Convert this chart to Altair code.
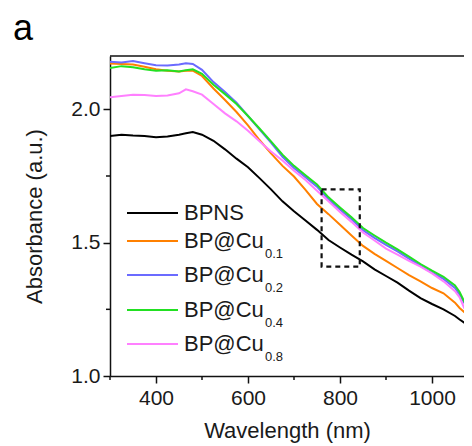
import altair as alt
import pandas as pd

# ---------------- data ----------------
wavelength = [300, 325, 350, 375, 400, 425, 450, 465, 480, 500, 525, 550, 575, 600,
              625, 650, 675, 700, 725, 750, 775, 800, 825, 850, 875, 900, 925, 950,
              975, 1000, 1025, 1050, 1060, 1070, 1075, 1080, 1085, 1090]

bpns = [1.900, 1.905, 1.902, 1.900, 1.895, 1.898, 1.905, 1.910, 1.915, 1.905, 1.882, 1.850,
        1.815, 1.783, 1.742, 1.700, 1.655, 1.618, 1.583, 1.548, 1.510, 1.482, 1.455, 1.430,
        1.400, 1.375, 1.350, 1.320, 1.292, 1.270, 1.250, 1.225, 1.212, 1.200, 1.205, 1.190,
        1.195, 1.185]
cu01 = [2.172, 2.170, 2.168, 2.160, 2.150, 2.145, 2.142, 2.145, 2.145, 2.125, 2.078, 2.035,
        1.990, 1.940, 1.885, 1.835, 1.788, 1.748, 1.698, 1.645, 1.607, 1.567, 1.527, 1.488,
        1.458, 1.432, 1.405, 1.378, 1.355, 1.330, 1.310, 1.275, 1.255, 1.240, 1.255, 1.245,
        1.250, 1.240]
cu02 = [2.178, 2.176, 2.181, 2.173, 2.165, 2.164, 2.168, 2.173, 2.170, 2.148, 2.102, 2.065,
        2.025, 1.975, 1.925, 1.875, 1.822, 1.780, 1.745, 1.710, 1.662, 1.624, 1.588, 1.547,
        1.518, 1.492, 1.467, 1.440, 1.413, 1.388, 1.364, 1.330, 1.305, 1.275, 1.262, 1.278,
        1.270, 1.265]
cu04 = [2.155, 2.162, 2.158, 2.150, 2.145, 2.147, 2.142, 2.147, 2.150, 2.133, 2.092, 2.057,
        2.020, 1.975, 1.928, 1.880, 1.830, 1.788, 1.753, 1.718, 1.670, 1.632, 1.595, 1.555,
        1.527, 1.500, 1.475, 1.448, 1.420, 1.395, 1.372, 1.340, 1.315, 1.280, 1.270, 1.282,
        1.272, 1.268]
cu08 = [2.045, 2.050, 2.055, 2.054, 2.050, 2.052, 2.060, 2.075, 2.068, 2.055, 2.020, 1.985,
        1.955, 1.920, 1.880, 1.842, 1.808, 1.770, 1.735, 1.695, 1.655, 1.615, 1.578, 1.538,
        1.508, 1.478, 1.455, 1.432, 1.410, 1.385, 1.355, 1.318, 1.295, 1.255, 1.250, 1.262,
        1.255, 1.250]

series_values = [bpns, cu01, cu02, cu04, cu08]
legend_main = ["BPNS", "BP@Cu", "BP@Cu", "BP@Cu", "BP@Cu"]
legend_sub = ["", "0.1", "0.2", "0.4", "0.8"]
colors = ["#000000", "#FF8000", "#6B6BFF", "#22E022", "#FF80FF"]
draw_order = [0, 1, 2, 4, 3]

x_major = [400, 600, 800, 1000]
x_minor = [300, 500, 700, 900]
y_major = [1.0, 1.5, 2.0]
y_minor = [1.25, 1.75]
box_x = [760, 843]
box_y = [1.41, 1.70]

# ---------------- layout ----------------
W, H = 354, 320
FONT = "Liberation Sans"
legend_rows = [157, 185, 219, 254, 288]

xs = alt.Scale(domain=[300, 300 + W / 0.46], nice=False, zero=False)
ys = alt.Scale(domain=[1.0, 2.2], nice=False, zero=False)
xaxis = alt.Axis(values=x_major, title="Wavelength (nm)", format="d", tickSize=7,
                 labelPadding=4, titlePadding=12, grid=False)
yaxis = alt.Axis(values=y_major, title="Absorbance (a.u.)", format=".1f", tickSize=7,
                 labelPadding=3, titlePadding=24, grid=False)


def xq(f):
    return alt.X(f, type="quantitative", scale=xs, axis=xaxis)


def yq(f):
    return alt.Y(f, type="quantitative", scale=ys, axis=yaxis)


layers = []
for i in draw_order:
    d = pd.DataFrame({"wl": wavelength, "ab": series_values[i]})
    layers.append(
        alt.Chart(d).mark_line(clip=True, strokeWidth=2, color=colors[i]).encode(
            x=xq("wl"), y=yq("ab")
        )
    )

# dashed box
bdf = pd.DataFrame({"x0": [box_x[0]], "x1": [box_x[1]], "y0": [box_y[0]], "y1": [box_y[1]]})
layers.append(
    alt.Chart(bdf).mark_rect(filled=False, stroke="#111111", strokeWidth=2.2,
                             strokeDash=[5, 4]).encode(
        x=xq("x0"), x2="x1", y=yq("y0"), y2="y1")
)

# minor ticks
layers.append(
    alt.Chart(pd.DataFrame({"v": x_minor})).mark_rule(color="#111111", strokeWidth=1.5).encode(
        x=xq("v"), y=alt.value(H), y2=alt.value(H + 4))
)
layers.append(
    alt.Chart(pd.DataFrame({"v": y_minor})).mark_rule(color="#111111", strokeWidth=1.5).encode(
        y=yq("v"), x=alt.value(-4), x2=alt.value(0))
)

# top frame line
layers.append(
    alt.Chart(pd.DataFrame({"a": [0]})).mark_rule(color="#111111", strokeWidth=1.5).encode(
        x=alt.value(0), x2=alt.value(W), y=alt.value(0))
)

# legend
for k in range(5):
    ry = legend_rows[k]
    one = pd.DataFrame({"m": [legend_main[k]], "s": [legend_sub[k]]})
    layers.append(
        alt.Chart(one).mark_rule(color=colors[k], strokeWidth=2).encode(
            x=alt.value(17), x2=alt.value(68), y=alt.value(ry))
    )
    layers.append(
        alt.Chart(one).mark_text(align="left", baseline="middle", fontSize=22, font=FONT,
                                 color="#1a1a1a").encode(
            x=alt.value(74), y=alt.value(ry), text="m:N")
    )
    if legend_sub[k]:
        layers.append(
            alt.Chart(one).mark_text(align="left", baseline="alphabetic", fontSize=13,
                                     font=FONT, color="#1a1a1a").encode(
                x=alt.value(155), y=alt.value(ry + 17), text="s:N")
        )

# panel letter
layers.append(
    alt.Chart(pd.DataFrame({"t": ["a"]})).mark_text(align="center", baseline="alphabetic",
                                                   fontSize=36, font=FONT,
                                                   color="#000000").encode(
        x=alt.value(-87), y=alt.value(-16), text="t:N")
)

chart = alt.layer(*layers).properties(
    width=W, height=H,
    padding={"left": 102, "top": 48, "right": 0, "bottom": 70},
    autosize=alt.AutoSizeParams(type="none"),
).configure_view(stroke=None).configure_axis(
    labelFont=FONT, titleFont=FONT, labelFontSize=21, titleFontSize=22,
    titleFontWeight="normal", labelColor="#1a1a1a", titleColor="#1a1a1a",
    domainColor="#111111", tickColor="#111111", domainWidth=1.5, tickWidth=1.5,
)

chart.save("out.html", embed_options={"renderer": "svg", "actions": False})
